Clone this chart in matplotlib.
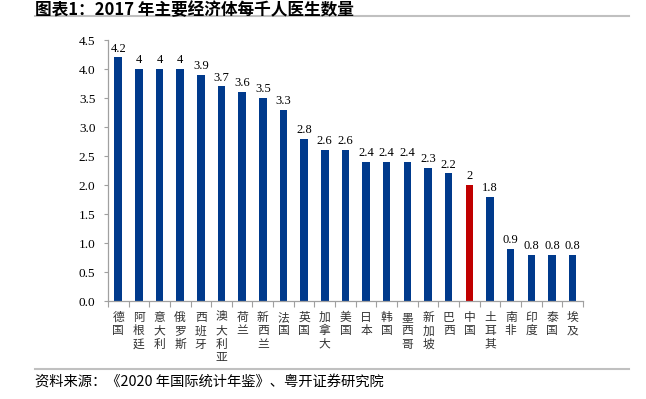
import matplotlib.pyplot as plt
from matplotlib.lines import Line2D

plt.rcParams['font.family'] = ['Liberation Serif', 'Noto Sans CJK SC', 'DejaVu Sans']

countries = ['德国', '阿根廷', '意大利', '俄罗斯', '西班牙', '澳大利亚', '荷兰', '新西兰',
             '法国', '英国', '加拿大', '美国', '日本', '韩国', '墨西哥', '新加坡', '巴西',
             '中国', '土耳其', '南非', '印度', '泰国', '埃及']
doctors = [4.2, 4, 4, 4, 3.9, 3.7, 3.6, 3.5, 3.3, 2.8, 2.6, 2.6, 2.4, 2.4, 2.4, 2.3, 2.2,
           2, 1.8, 0.9, 0.8, 0.8, 0.8]
value_labels = ['4.2', '4', '4', '4', '3.9', '3.7', '3.6', '3.5', '3.3', '2.8', '2.6', '2.6',
                '2.4', '2.4', '2.4', '2.3', '2.2', '2', '1.8', '0.9', '0.8', '0.8', '0.8']
yticks = [0.0, 0.5, 1.0, 1.5, 2.0, 2.5, 3.0, 3.5, 4.0, 4.5]

navy = '#003A8C'
red = '#C00000'
colors = [red if c == '中国' else navy for c in countries]

fig = plt.figure(figsize=(6.46, 3.99), dpi=100)
ax = fig.add_axes([0.167, 0.2456, 0.7355, 0.6541])

x = range(len(countries))
bars = ax.bar(x, doctors, width=0.36, color=colors)
for b, lab in zip(bars, value_labels):
    ax.text(b.get_x() + b.get_width() / 2, b.get_height() + 0.05, lab,
            ha='center', va='bottom', fontsize=9, family='Liberation Serif')

ax.set_xlim(-0.5, len(countries) - 0.5)
ax.set_ylim(0, 4.5)
ax.set_yticks(yticks)
ax.set_yticklabels(['%.1f' % v for v in yticks], fontsize=9.5)
ax.tick_params(axis='y', length=3, color='#a0a0a0', pad=6)

# category ticks between bars, vertical stacked labels
ax.set_xticks([i - 0.5 for i in range(len(countries) + 1)])
ax.set_xticklabels([])
ax.tick_params(axis='x', length=4, color='#a0a0a0', direction='out')
for i, c in enumerate(countries):
    ax.text(i, -0.17, '\n'.join(c), ha='center', va='top', fontsize=8.5,
            family='Noto Sans CJK SC', color='#333333', linespacing=1.05)

for s in ['top', 'right']:
    ax.spines[s].set_visible(False)
for s in ['left', 'bottom']:
    ax.spines[s].set_color('#a0a0a0')
    ax.spines[s].set_linewidth(0.9)

fig.text(0.054, 0.998, '图表1：2017 年主要经济体每千人医生数量', ha='left', va='top',
         fontsize=12, fontweight='bold', family=['Noto Sans CJK SC', 'DejaVu Sans'])
fig.add_artist(Line2D([35 / 646, 629 / 646], [1 - 16 / 399] * 2, color='#c0c0c0', lw=1.5))
fig.add_artist(Line2D([35 / 646, 629 / 646], [1 - 369 / 399] * 2, color='#c0c0c0', lw=1.5))
fig.text(0.054, 1 - 383 / 399, '资料来源：《2020 年国际统计年鉴》、粤开证券研究院', ha='left',
         va='center', fontsize=10.3, style='italic', family=['Noto Sans CJK SC', 'DejaVu Sans'])

fig.savefig('out.png', dpi=100)
